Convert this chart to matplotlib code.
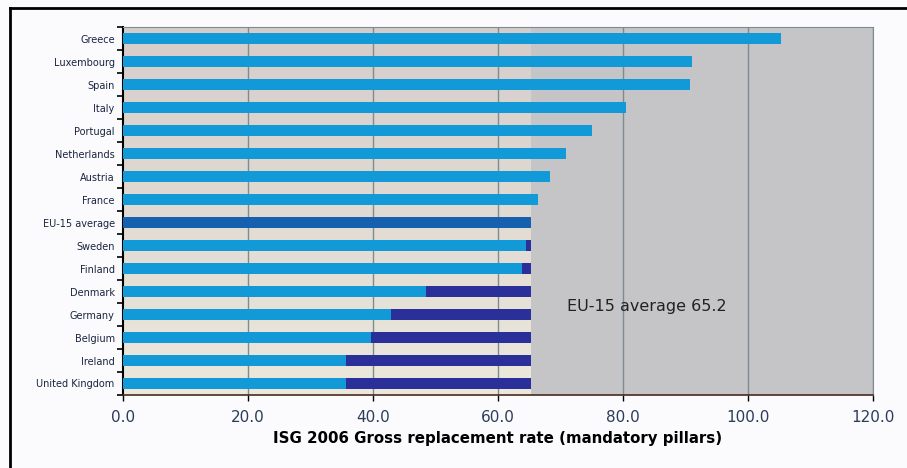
import numpy as np
import matplotlib
matplotlib.use("Agg")
import matplotlib.pyplot as plt
from matplotlib.colors import LinearSegmentedColormap

countries = ["Greece", "Luxembourg", "Spain", "Italy", "Portugal", "Netherlands",
             "Austria", "France", "EU-15 average", "Sweden", "Finland", "Denmark",
             "Germany", "Belgium", "Ireland", "United Kingdom"]
rates = [105.3, 91.1, 90.7, 80.5, 75.1, 70.8, 68.3, 66.4, 65.2,
         64.5, 63.9, 48.5, 42.9, 39.6, 35.7, 35.7]
eu_avg = 65.2
xticks = [0, 20, 40, 60, 80, 100, 120]

light_blue = "#129ad8"
dark_blue = "#2a2f9a"
avg_blue = "#1561b0"

fig = plt.figure(figsize=(9.07, 4.68), dpi=100, facecolor="#fbfbfd")
ax = fig.add_axes([0.1356, 0.156, 0.827, 0.786])

n = len(countries)
ypos = np.arange(n)

# background: grey area, lighter warm gradient below the average
ax.set_facecolor("#c5c5c7")
grad = np.linspace(0, 1, 100).reshape(-1, 1)
cmap = LinearSegmentedColormap.from_list("bg", ["#d6cdca", "#ece8dc"])
ax.imshow(grad, cmap=cmap, aspect="auto", extent=[0, eu_avg, n - 0.5, -0.5], zorder=0)

for x in xticks[1:]:
    ax.axvline(x, color="#7c8c92", lw=1, zorder=1)

colors = [avg_blue if c == "EU-15 average" else light_blue for c in countries]
ax.barh(ypos, rates, height=0.5, color=colors, zorder=3)
gaps = [max(eu_avg - r, 0) if c != "EU-15 average" else 0 for c, r in zip(countries, rates)]
ax.barh(ypos, gaps, left=rates, height=0.5, color=dark_blue, zorder=3)

ax.text(71, 11.65, "EU-15 average 65.2", fontsize=11.5, color="#222222",
        va="center", ha="left", zorder=4)

ax.set_xlim(0, 120)
ax.set_ylim(n - 0.5, -0.5)
ax.set_xticks(xticks)
ax.set_xticklabels(["%.1f" % x for x in xticks], fontsize=11, color="#2b3c5a")
ax.set_yticks(ypos)
ax.set_yticklabels(countries, fontsize=7, color="#1a2440")
ax.set_yticks(np.arange(n + 1) - 0.5, minor=True)
ax.tick_params(axis="y", which="major", length=0, pad=6)
ax.tick_params(axis="y", which="minor", length=4, width=1.2, color="black", direction="out")
ax.tick_params(axis="x", length=4, width=1, color="black", pad=7)
ax.set_xlabel("ISG 2006 Gross replacement rate (mandatory pillars)",
              fontsize=10.8, fontweight="bold", color="black", labelpad=4)

ax.spines["left"].set_color("black")
ax.spines["left"].set_linewidth(1.5)
ax.spines["bottom"].set_color("#4a2a20")
ax.spines["bottom"].set_linewidth(1.2)
ax.spines["top"].set_color("#7c8c92")
ax.spines["right"].set_color("#7c8c92")

# outer frame lines
fig.add_artist(plt.Line2D([0.011, 1.0], [0.983, 0.983], color="black", lw=2))
fig.add_artist(plt.Line2D([0.011, 0.011], [0.0, 0.983], color="black", lw=2))

fig.savefig("out.png", dpi=100, facecolor=fig.get_facecolor())
